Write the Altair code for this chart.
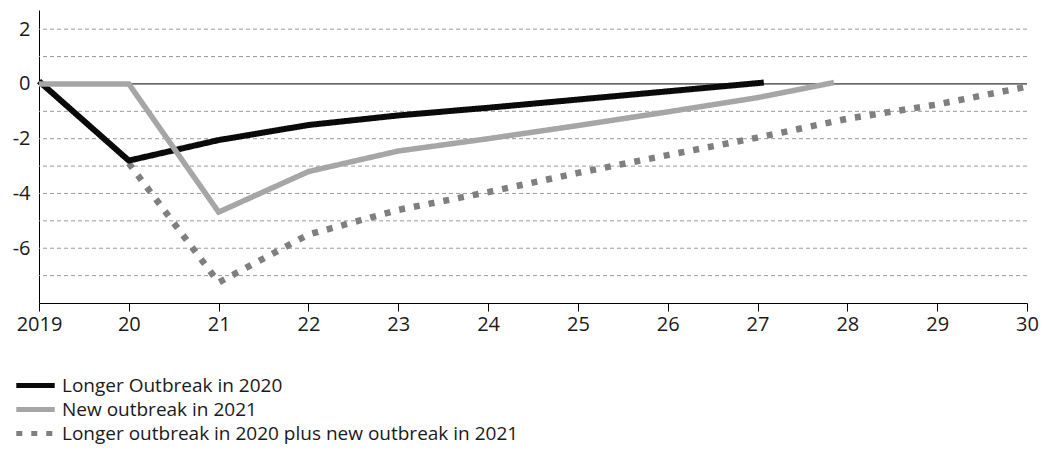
import altair as alt
import pandas as pd

series_names = [
    "Longer Outbreak in 2020",
    "New outbreak in 2021",
    "Longer outbreak in 2020 plus new outbreak in 2021",
]
series_colors = ["#0a0a0a", "#a6a6a6", "#7f7f7f"]

black_years = [2019, 2020, 2021, 2022, 2023, 2024, 2025, 2026, 2027.07]
black_vals = [0.1, -2.8, -2.05, -1.5, -1.15, -0.87, -0.57, -0.27, 0.05]

gray_years = [2019, 2020, 2021, 2022, 2023, 2024, 2025, 2026, 2027, 2027.85]
gray_vals = [0.0, 0.0, -4.68, -3.2, -2.45, -2.0, -1.52, -1.02, -0.5, 0.05]

dot_years = [2020, 2021, 2022, 2023, 2024, 2025, 2026, 2027, 2028, 2029, 2030]
dot_vals = [-2.9, -7.25, -5.5, -4.6, -3.95, -3.25, -2.6, -1.96, -1.27, -0.75, -0.1]

tick_years = list(range(2019, 2031))
grid_vals = [2, 1, -1, -2, -3, -4, -5, -6, -7]

rows = []
for name, ys, vs in zip(series_names, [black_years, gray_years, dot_years],
                        [black_vals, gray_vals, dot_vals]):
    for y, v in zip(ys, vs):
        rows.append({"series": name, "year": y, "value": v})
df = pd.DataFrame(rows)

FONT = "Open Sans"

x_scale = alt.Scale(domain=[2019, 2030], nice=False, zero=False)
y_scale = alt.Scale(domain=[-8, 2.7], nice=False, zero=False)

legend = alt.Legend(
    title=None,
    orient="none",
    legendX=-13,
    legendY=366,
    direction="vertical",
    symbolType="M-3,0H3",
    symbolSize=164,
    symbolStrokeWidth=5,
    labelOffset=17,
    labelFont=FONT,
    labelFontSize=19,
    labelColor="#1a1a1a",
    labelLimit=800,
    rowPadding=3,
    padding=0,
)

x_enc = alt.X(
    "year:Q",
    scale=x_scale,
    axis=alt.Axis(
        values=tick_years,
        labelExpr="datum.value == 2019 ? '2019' : '' + (datum.value - 2000)",
        title=None,
        grid=False,
        labelFlush=False,
        domainColor="#000000",
        tickColor="#000000",
        tickSize=8,
        labelPadding=3,
        labelFont=FONT,
        labelFontSize=20,
        labelColor="#1a1a1a",
    ),
)
y_enc = alt.Y(
    "value:Q",
    scale=y_scale,
    axis=alt.Axis(
        values=[2, 0, -2, -4, -6],
        labelExpr="'' + datum.value",
        title=None,
        grid=False,
        ticks=False,
        domainColor="#000000",
        labelPadding=9,
        labelFont=FONT,
        labelFontSize=20,
        labelColor="#1a1a1a",
    ),
)
color_enc = alt.Color(
    "series:N",
    sort=series_names,
    scale=alt.Scale(domain=series_names, range=series_colors),
    legend=legend,
)
dash_enc = alt.StrokeDash(
    "series:N",
    sort=series_names,
    scale=alt.Scale(domain=series_names, range=[[1, 0], [1, 0], [6, 9]]),
    legend=legend,
)

grid = alt.Chart(pd.DataFrame({"g": grid_vals})).mark_rule(
    color="#9a9a9a", strokeWidth=1, strokeDash=[4, 3]
).encode(y=alt.Y("g:Q", scale=y_scale))

zero = alt.Chart(pd.DataFrame({"z": [0]})).mark_rule(
    color="#000000", strokeWidth=1
).encode(y=alt.Y("z:Q", scale=y_scale))


def series_layer(name, width):
    return alt.Chart(df).transform_filter(
        alt.datum.series == name
    ).mark_line(strokeWidth=width, strokeCap="butt", strokeJoin="miter").encode(
        x=x_enc, y=y_enc, color=color_enc, strokeDash=dash_enc
    )


dotted = series_layer(series_names[2], 6.5)
black = series_layer(series_names[0], 6)
gray = series_layer(series_names[1], 5.5)

chart = alt.layer(grid, zero, dotted, black, gray).properties(
    width=988,
    height=293,
    autosize=alt.AutoSizeParams(type="none"),
    padding={"left": 31, "top": 2, "right": 13, "bottom": 148},
).configure_view(stroke=None).configure_axis(domainWidth=1)

chart.save("out.html", embed_options={"renderer": "svg", "actions": False})
